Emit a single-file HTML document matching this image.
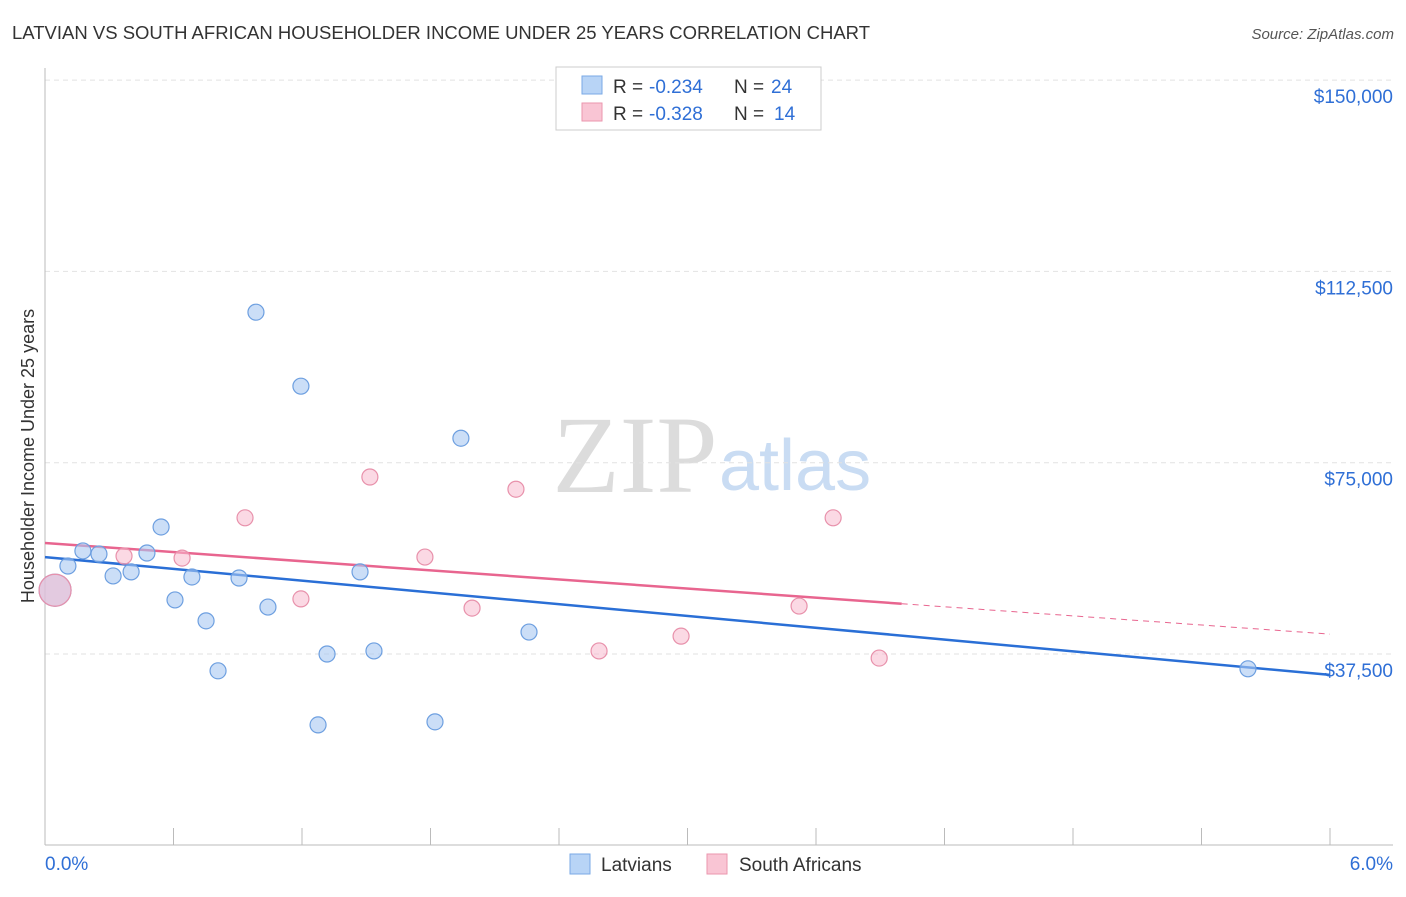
<!DOCTYPE html>
<html><head><meta charset="utf-8">
<style>
body{margin:0;background:#fff;font-family:"Liberation Sans",sans-serif;}
svg text{font-family:"Liberation Sans",sans-serif;}
</style></head>
<body>
<svg id="c" width="1406" height="892">
<text x="12" y="39" font-size="18.5" fill="#333">LATVIAN VS SOUTH AFRICAN HOUSEHOLDER INCOME UNDER 25 YEARS CORRELATION CHART</text>
<text x="1394" y="39" font-size="15" fill="#555" font-style="italic" text-anchor="end">Source: ZipAtlas.com</text>
<text x="635" y="492" font-size="110" fill="#dcdcdc" text-anchor="middle" style="font-family:'Liberation Serif',serif">ZIP</text>
<text x="719" y="490" font-size="72" fill="#c9dcf3">atlas</text>
<text transform="translate(34,456) rotate(-90)" font-size="18" fill="#333" text-anchor="middle">Householder Income Under 25 years</text>
<g id="grid"></g><g id="trends"></g><g id="pts"></g>
<g>
<rect x="556" y="67" width="265" height="63" fill="#fff" stroke="#ccc"/>
<rect x="582" y="76" width="20" height="18" fill="#b8d4f6" stroke="#7aa9e6"/>
<text x="613" y="93" font-size="19" fill="#333">R =</text>
<text x="649" y="93" font-size="19" fill="#2f6fd6">-0.234</text>
<text x="734" y="93" font-size="19" fill="#333">N =</text>
<text x="771" y="93" font-size="19" fill="#2f6fd6">24</text>
<rect x="582" y="103" width="20" height="18" fill="#f9c5d4" stroke="#eb96ae"/>
<text x="613" y="120" font-size="19" fill="#333">R =</text>
<text x="649" y="120" font-size="19" fill="#2f6fd6">-0.328</text>
<text x="734" y="120" font-size="19" fill="#333">N =</text>
<text x="774" y="120" font-size="19" fill="#2f6fd6">14</text>
</g>
<g>
<rect x="570" y="854" width="20" height="20" fill="#b8d4f6" stroke="#7aa9e6"/>
<text x="601" y="871" font-size="19" fill="#333">Latvians</text>
<rect x="707" y="854" width="20" height="20" fill="#f9c5d4" stroke="#eb96ae"/>
<text x="739" y="871" font-size="19" fill="#333">South Africans</text>
</g>
</svg>
<script>
const yTicks=[37500,75000,112500,150000];
const yTickLabels=["$37,500","$75,000","$112,500","$150,000"];
const xTickLabels=["0.0%","6.0%"];
const blueX=[0.047,0.107,0.177,0.252,0.318,0.402,0.476,0.542,0.607,0.686,0.752,0.808,0.906,0.985,1.041,1.195,1.275,1.317,1.471,1.536,1.821,1.942,2.260,5.617];
const blueY=[50000,54750,57700,57100,52800,53600,57300,62400,48100,52600,44000,34200,52400,104500,46700,90000,23600,37500,53600,38100,24200,79800,41800,34600];
const pinkX=[0.047,0.369,0.640,0.934,1.195,1.517,1.774,1.994,2.199,2.587,2.970,3.521,3.680,3.895];
const pinkY=[50000,56700,56300,64200,48300,72200,56500,46500,69800,38100,41000,46900,64200,36700];
const blueTrend=[56500,33400];
const pinkTrend=[59260,41400];
const pinkSolidEnd=4.0;
const NS="http://www.w3.org/2000/svg";
const X=p=>45+p/6*1285;
const Y=v=>654-(v-37500)/37500*191.3;
function mk(t,a,parent){const e=document.createElementNS(NS,t);for(const k in a)e.setAttribute(k,a[k]);document.getElementById(parent).appendChild(e);return e;}
yTicks.forEach((v,i)=>{
 const l=mk('line',{x1:45,x2:1393,y1:Y(v),y2:Y(v),stroke:'#e2e2e2','stroke-dasharray':'5,4'},'grid');
 
 
 const t=mk('text',{x:1393,y:Y(v)+23,'font-size':19,fill:'#2f6fd6','text-anchor':'end'},'grid');
 t.textContent=yTickLabels[i];
 
 
});
const ax=mk('line',{x1:45,x2:45,y1:68,y2:845,stroke:'#bbb'},'grid');


const bx=mk('line',{x1:45,x2:1393,y1:845,y2:845,stroke:'#bbb'},'grid');


for(let i=0;i<=10;i++){
 const t=mk('line',{x1:X(i*0.6),x2:X(i*0.6),y1:828,y2:845,stroke:'#bbb'},'grid');
 
 
}
[[0,'start',45],[6,'end',1393]].forEach((d,i)=>{
 const t=mk('text',{x:d[2],y:870,'font-size':19,fill:'#2f6fd6','text-anchor':d[1]},'grid');
 t.textContent=xTickLabels[i];
 
 
});
const bt=mk('line',{x1:X(0),y1:Y(blueTrend[0]),x2:X(6),y2:Y(blueTrend[1]),stroke:'#2a6fd6','stroke-width':2.5},'trends');


const pAt=p=>pinkTrend[0]+(pinkTrend[1]-pinkTrend[0])*p/6;
const pt=mk('line',{x1:X(0),y1:Y(pinkTrend[0]),x2:X(pinkSolidEnd),y2:Y(pAt(pinkSolidEnd)),stroke:'#e8658f','stroke-width':2.5},'trends');


const pd=mk('line',{x1:X(pinkSolidEnd),y1:Y(pAt(pinkSolidEnd)),x2:X(6),y2:Y(pinkTrend[1]),stroke:'#e8658f','stroke-width':1,'stroke-dasharray':'6,5'},'trends');


function pts(xs,ys,fill,stroke,name){
 xs.forEach((x,i)=>{
  const c=mk('circle',{cx:X(x),cy:Y(ys[i]),r:i===0?16:8,fill:fill,stroke:stroke,'stroke-width':1.2},'pts');
  
  
 });
}
pts(blueX,blueY,'rgba(168,200,242,0.6)','#6d9fe0','latvian-point');
pts(pinkX,pinkY,'rgba(248,186,206,0.55)','#e891ab','south-african-point');
</script>
</body></html>
